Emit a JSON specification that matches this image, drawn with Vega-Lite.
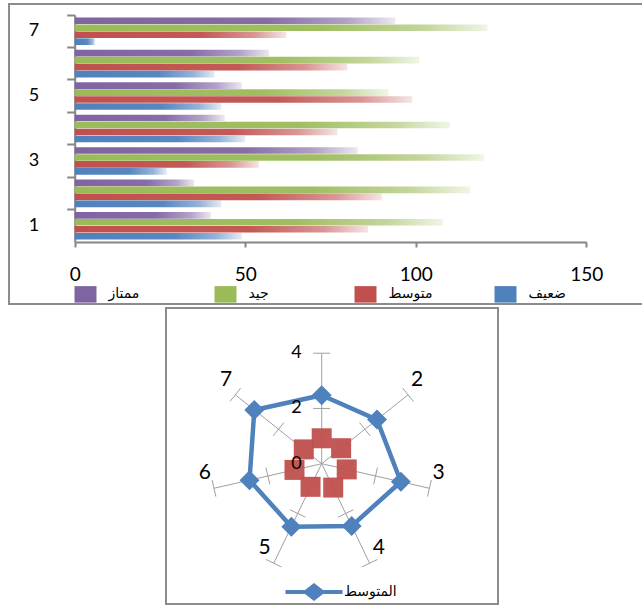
{
  "$schema": "https://vega.github.io/schema/vega-lite/v6.json",
  "padding": {"left": 8, "top": 3, "right": 0, "bottom": 0},
  "background": "white",
  "bounds": "flush",
  "config": {"view": {"stroke": "#8c8c8c", "strokeWidth": 2}, "font": "Lato"},
  "resolve": {"scale": {"color": "independent"}, "legend": {"color": "independent"}},
  "datasets": {
    "bars": [
      {"cat": 7, "series": "ممتاز", "value": 94}, {"cat": 7, "series": "جيد", "value": 121}, {"cat": 7, "series": "متوسط", "value": 62}, {"cat": 7, "series": "ضعيف", "value": 6},
      {"cat": 6, "series": "ممتاز", "value": 57}, {"cat": 6, "series": "جيد", "value": 101}, {"cat": 6, "series": "متوسط", "value": 80}, {"cat": 6, "series": "ضعيف", "value": 41},
      {"cat": 5, "series": "ممتاز", "value": 49}, {"cat": 5, "series": "جيد", "value": 92}, {"cat": 5, "series": "متوسط", "value": 99}, {"cat": 5, "series": "ضعيف", "value": 43},
      {"cat": 4, "series": "ممتاز", "value": 44}, {"cat": 4, "series": "جيد", "value": 110}, {"cat": 4, "series": "متوسط", "value": 77}, {"cat": 4, "series": "ضعيف", "value": 50},
      {"cat": 3, "series": "ممتاز", "value": 83}, {"cat": 3, "series": "جيد", "value": 120}, {"cat": 3, "series": "متوسط", "value": 54}, {"cat": 3, "series": "ضعيف", "value": 27},
      {"cat": 2, "series": "ممتاز", "value": 35}, {"cat": 2, "series": "جيد", "value": 116}, {"cat": 2, "series": "متوسط", "value": 90}, {"cat": 2, "series": "ضعيف", "value": 43},
      {"cat": 1, "series": "ممتاز", "value": 40}, {"cat": 1, "series": "جيد", "value": 108}, {"cat": 1, "series": "متوسط", "value": 86}, {"cat": 1, "series": "ضعيف", "value": 49}
    ],
    "radar": [
      {"cat": 1, "series": "المتوسط", "avg": 2.48, "sq": 0.92},
      {"cat": 2, "series": "المتوسط", "avg": 2.56, "sq": 0.90},
      {"cat": 3, "series": "المتوسط", "avg": 2.94, "sq": 0.93},
      {"cat": 4, "series": "المتوسط", "avg": 2.50, "sq": 0.96},
      {"cat": 5, "series": "المتوسط", "avg": 2.53, "sq": 0.93},
      {"cat": 6, "series": "المتوسط", "avg": 2.68, "sq": 1.01},
      {"cat": 7, "series": "المتوسط", "avg": 3.12, "sq": 0.83}
    ],
    "rvals": [{"v": 0}, {"v": 2}, {"v": 4}]
  },
  "spacing": 4,
  "vconcat": [
    {
      "width": 634,
      "height": 300,
      "data": {"name": "bars"},
      "encoding": {
        "y": {
          "field": "cat", "type": "ordinal", "sort": "descending",
          "scale": {"range": [11, 238], "paddingInner": 0, "paddingOuter": 0},
          "axis": {"orient": "left", "offset": -65.7, "title": null, "bandPosition": 0, "labelOffset": 0, "tickSize": 8, "tickColor": "#868686", "tickWidth": 2, "domainColor": "#868686", "domainWidth": 2, "labelPadding": 28, "labelFontSize": 18, "labelFont": "Lato", "labelColor": "#000", "labelAngle": 0, "labelBaseline": "middle", "labelExpr": "datum.value % 2 == 1 ? datum.label : ''"}
        },
        "yOffset": {"field": "series", "type": "nominal", "scale": {"domain": ["ممتاز", "جيد", "متوسط", "ضعيف"], "paddingInner": 0.05, "paddingOuter": 0.35}},
        "x": {
          "field": "value", "type": "quantitative",
          "scale": {"domain": [0, 150], "range": [65.7, 577.3], "nice": false},
          "axis": {"orient": "bottom", "offset": -62, "title": null, "values": [0, 50, 100, 150], "grid": false, "tickSize": 5, "tickColor": "#868686", "tickWidth": 2, "domainColor": "#868686", "domainWidth": 2, "labelPadding": 18, "labelFontSize": 19, "labelFont": "Lato", "labelColor": "#000", "labelFlush": false, "labelOverlap": false}
        }
      },
      "layer": [
        {
          "transform": [{"filter": "datum.series === 'ممتاز'"}],
          "mark": {"type": "bar", "fill": {"gradient": "linear", "x1": 0, "y1": 0, "x2": 1, "y2": 0, "stops": [
            {"offset": 0, "color": "rgba(128,100,162,1)"}, {"offset": 0.6, "color": "rgba(128,100,162,0.95)"}, {"offset": 0.85, "color": "rgba(128,100,162,0.6)"}, {"offset": 1, "color": "rgba(128,100,162,0.15)"}]}}
        },
        {
          "transform": [{"filter": "datum.series === 'جيد'"}],
          "mark": {"type": "bar", "fill": {"gradient": "linear", "x1": 0, "y1": 0, "x2": 1, "y2": 0, "stops": [
            {"offset": 0, "color": "rgba(155,187,89,1)"}, {"offset": 0.6, "color": "rgba(155,187,89,0.95)"}, {"offset": 0.85, "color": "rgba(155,187,89,0.6)"}, {"offset": 1, "color": "rgba(155,187,89,0.15)"}]}}
        },
        {
          "transform": [{"filter": "datum.series === 'متوسط'"}],
          "mark": {"type": "bar", "fill": {"gradient": "linear", "x1": 0, "y1": 0, "x2": 1, "y2": 0, "stops": [
            {"offset": 0, "color": "rgba(192,80,77,1)"}, {"offset": 0.6, "color": "rgba(192,80,77,0.95)"}, {"offset": 0.85, "color": "rgba(192,80,77,0.6)"}, {"offset": 1, "color": "rgba(192,80,77,0.15)"}]}}
        },
        {
          "transform": [{"filter": "datum.series === 'ضعيف'"}],
          "mark": {"type": "bar", "fill": {"gradient": "linear", "x1": 0, "y1": 0, "x2": 1, "y2": 0, "stops": [
            {"offset": 0, "color": "rgba(79,129,189,1)"}, {"offset": 0.6, "color": "rgba(79,129,189,0.95)"}, {"offset": 0.85, "color": "rgba(79,129,189,0.6)"}, {"offset": 1, "color": "rgba(79,129,189,0.15)"}]}}
        },
        {
          "transform": [{"filter": "false"}],
          "mark": "bar",
          "encoding": {
            "color": {
              "field": "series", "type": "nominal",
              "scale": {"domain": ["ممتاز", "جيد", "متوسط", "ضعيف"], "range": ["#8064A2", "#9BBB59", "#C0504D", "#4F81BD"]},
              "legend": {"orient": "none", "legendX": 65.5, "legendY": 279, "direction": "horizontal", "columns": 4, "gridAlign": "all", "columnPadding": 62, "symbolType": "M-1,-0.75L1,-0.75L1,0.75L-1,0.75Z", "symbolSize": 484, "symbolStrokeWidth": 0, "symbolOpacity": 1, "labelOffset": 12, "labelFont": "DejaVu Sans", "labelFontSize": 14, "labelColor": "#000", "title": null, "padding": 0}
            }
          }
        }
      ]
    },
    {
      "spacing": 0,
      "bounds": "flush",
      "hconcat": [
        {
          "width": 157, "height": 296,
          "data": {"values": [{"t": ""}]},
          "mark": {"type": "text"},
          "encoding": {"text": {"field": "t", "type": "nominal"}},
          "view": {"stroke": null}
        },
        {
          "width": 332, "height": 296,
          "data": {"name": "radar"},
          "transform": [
            {"calculate": "(datum.cat - 1) * 2 * PI / 7", "as": "a"},
            {"calculate": "0", "as": "o"},
            {"calculate": "4 * sin(datum.a)", "as": "ex"},
            {"calculate": "4 * cos(datum.a)", "as": "ey"},
            {"calculate": "2 * sin(datum.a) - 0.31 * cos(datum.a)", "as": "t2x1"},
            {"calculate": "2 * cos(datum.a) + 0.31 * sin(datum.a)", "as": "t2y1"},
            {"calculate": "2 * sin(datum.a) + 0.31 * cos(datum.a)", "as": "t2x2"},
            {"calculate": "2 * cos(datum.a) - 0.31 * sin(datum.a)", "as": "t2y2"},
            {"calculate": "4 * sin(datum.a) - 0.31 * cos(datum.a)", "as": "t4x1"},
            {"calculate": "4 * cos(datum.a) + 0.31 * sin(datum.a)", "as": "t4y1"},
            {"calculate": "4 * sin(datum.a) + 0.31 * cos(datum.a)", "as": "t4x2"},
            {"calculate": "4 * cos(datum.a) - 0.31 * sin(datum.a)", "as": "t4y2"},
            {"calculate": "datum.avg * sin(datum.a)", "as": "bx"},
            {"calculate": "datum.avg * cos(datum.a)", "as": "by"},
            {"calculate": "datum.sq * sin(datum.a)", "as": "rx"},
            {"calculate": "datum.sq * cos(datum.a)", "as": "ry"},
            {"calculate": "4 * sin(datum.a) + (sin(datum.a) > 0 ? 0.33 : -0.33)", "as": "lx"},
            {"calculate": "4 * cos(datum.a) + 0.55", "as": "ly"},
            {"calculate": "'' + datum.cat", "as": "lab"}
          ],
          "layer": [
            {
              "mark": {"type": "rule", "color": "#a0a0a0", "strokeWidth": 1},
              "encoding": {
                "x": {"field": "o", "type": "quantitative", "scale": {"domain": [-5.637, 6.383], "nice": false, "zero": false}, "axis": null},
                "y": {"field": "o", "type": "quantitative", "scale": {"domain": [-5.08, 5.637], "nice": false, "zero": false}, "axis": null},
                "x2": {"field": "ex"},
                "y2": {"field": "ey"}
              }
            },
            {
              "mark": {"type": "rule", "color": "#a0a0a0", "strokeWidth": 1},
              "encoding": {
                "x": {"field": "t2x1", "type": "quantitative", "scale": {"domain": [-5.637, 6.383], "nice": false, "zero": false}, "axis": null},
                "y": {"field": "t2y1", "type": "quantitative", "scale": {"domain": [-5.08, 5.637], "nice": false, "zero": false}, "axis": null},
                "x2": {"field": "t2x2"},
                "y2": {"field": "t2y2"}
              }
            },
            {
              "mark": {"type": "rule", "color": "#a0a0a0", "strokeWidth": 1},
              "encoding": {
                "x": {"field": "t4x1", "type": "quantitative", "scale": {"domain": [-5.637, 6.383], "nice": false, "zero": false}, "axis": null},
                "y": {"field": "t4y1", "type": "quantitative", "scale": {"domain": [-5.08, 5.637], "nice": false, "zero": false}, "axis": null},
                "x2": {"field": "t4x2"},
                "y2": {"field": "t4y2"}
              }
            },
            {
              "mark": {"type": "point", "shape": "square", "filled": true, "size": 400, "color": "#C0504D", "opacity": 0.95},
              "encoding": {
                "x": {"field": "rx", "type": "quantitative", "scale": {"domain": [-5.637, 6.383], "nice": false, "zero": false}, "axis": null},
                "y": {"field": "ry", "type": "quantitative", "scale": {"domain": [-5.08, 5.637], "nice": false, "zero": false}, "axis": null}
              }
            },
            {
              "mark": {"type": "line", "interpolate": "linear-closed", "color": "#4F81BD", "strokeWidth": 4.5},
              "encoding": {
                "x": {"field": "bx", "type": "quantitative", "scale": {"domain": [-5.637, 6.383], "nice": false, "zero": false}, "axis": null},
                "y": {"field": "by", "type": "quantitative", "scale": {"domain": [-5.08, 5.637], "nice": false, "zero": false}, "axis": null},
                "order": {"field": "cat", "type": "quantitative"}
              }
            },
            {
              "mark": {"type": "point", "shape": "diamond", "filled": true, "size": 400, "opacity": 1},
              "encoding": {
                "x": {"field": "bx", "type": "quantitative", "scale": {"domain": [-5.637, 6.383], "nice": false, "zero": false}, "axis": null},
                "y": {"field": "by", "type": "quantitative", "scale": {"domain": [-5.08, 5.637], "nice": false, "zero": false}, "axis": null},
                "color": {
                  "field": "series", "type": "nominal",
                  "scale": {"domain": ["المتوسط"], "range": ["#4F81BD"]},
                  "legend": {"orient": "none", "legendX": 296, "legendY": 275, "symbolType": "M-3.17,-0.22L-1,-0.22L0,-1L1,-0.22L3.17,-0.22L3.17,0.22L1,0.22L0,1L-1,0.22L-3.17,0.22Z", "symbolSize": 324, "symbolStrokeWidth": 0, "symbolOpacity": 1, "labelFont": "DejaVu Sans", "labelFontSize": 14, "labelColor": "#000", "labelOffset": 21, "title": null, "padding": 0}
                }
              }
            },
            {
              "transform": [{"filter": "datum.cat != 1"}],
              "mark": {"type": "text", "fontSize": 21, "font": "Lato", "color": "#000", "align": "center", "baseline": "middle"},
              "encoding": {
                "x": {"field": "lx", "type": "quantitative", "scale": {"domain": [-5.637, 6.383], "nice": false, "zero": false}, "axis": null},
                "y": {"field": "ly", "type": "quantitative", "scale": {"domain": [-5.08, 5.637], "nice": false, "zero": false}, "axis": null},
                "text": {"field": "lab", "type": "nominal"}
              }
            },
            {
              "data": {"name": "rvals"},
              "transform": [{"calculate": "0", "as": "o"}],
              "mark": {"type": "text", "fontSize": 18, "font": "Lato", "color": "#000", "align": "right", "baseline": "middle", "dx": -20},
              "encoding": {
                "x": {"field": "o", "type": "quantitative", "scale": {"domain": [-5.637, 6.383], "nice": false, "zero": false}, "axis": null},
                "y": {"field": "v", "type": "quantitative", "scale": {"domain": [-5.08, 5.637], "nice": false, "zero": false}, "axis": null},
                "text": {"field": "v", "type": "quantitative"}
              }
            }
          ]
        }
      ]
    }
  ]
}
